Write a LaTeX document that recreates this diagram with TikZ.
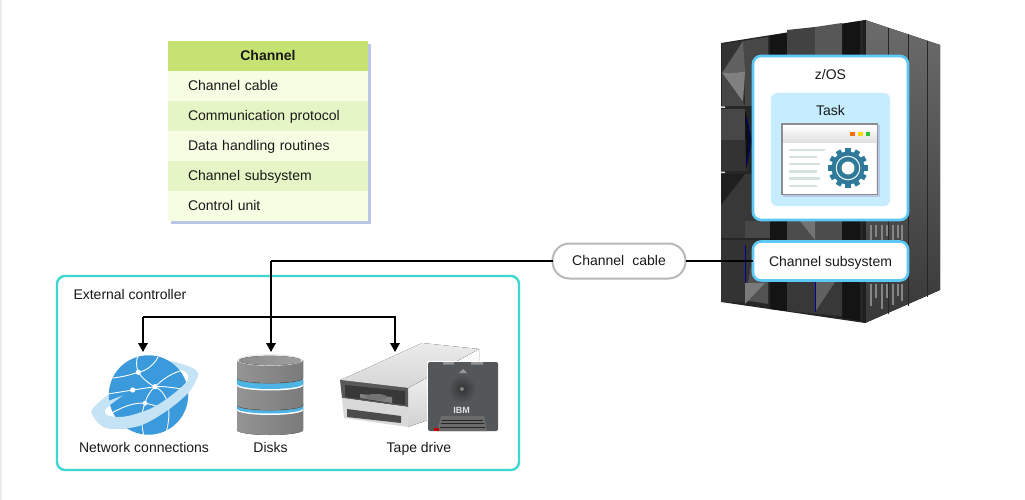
\documentclass[tikz,border=0pt]{standalone}
\usepackage{fontspec}
\setmainfont{Liberation Sans}
\usetikzlibrary{arrows.meta,calc}
\definecolor{hdr}{HTML}{C5E273}
\definecolor{rowa}{HTML}{F6FDE2}
\definecolor{rowb}{HTML}{E6F5C5}
\definecolor{shad}{HTML}{B9C6E6}
\definecolor{teal}{HTML}{3DD6D0}
\definecolor{sky}{HTML}{5CC8F5}
\definecolor{taskb}{HTML}{C6ECFF}
\definecolor{globe}{HTML}{3A9ADC}
\definecolor{ringc}{HTML}{C4E3F5}
\definecolor{gearc}{HTML}{2F7A99}
\definecolor{linec}{HTML}{D5E2E0}
\definecolor{diskb}{HTML}{4DB4E6}
\definecolor{cart}{HTML}{53575A}
\tikzset{
  every node/.style={font=\fontsize{14}{16}\selectfont,text=black!90,inner sep=0,outer sep=0},
  rowcell/.style={anchor=north west,text width=160pt,inner xsep=20pt,minimum height=30pt,align=left,text height=11pt,text depth=2pt},
  baselabel/.style={anchor=base},
  wire/.style={line width=1.7pt,black},
  feed/.style={wire,-{Triangle[width=9.5pt,length=9pt]}},
  bluebox/.style={draw=sky,line width=2.6pt,fill=white,rounded corners=8pt},
  facetl/.style={fill=black!50},
  facetm/.style={fill=black!72},
  facetd/.style={fill=black!80},
  slot/.style={fill=black!92},
  net/.style={draw=white,line width=0.9pt},
  greybar/.style={draw=black!48,line width=1.2pt},
  txtline/.style={draw=linec,line width=2.2pt},
  diskseg/.style={left color=black!42,middle color=black!22,right color=black!52},
}
\newcommand{\ringpath}{plot[smooth cycle,tension=0.55] coordinates {(91.7,413) (102,426) (118,429) (142,425) (168,410) (188,393) (197,378) (196.7,371) (185,365) (165,362) (130,378) (108,395) (96,405)}
  plot[smooth cycle,tension=0.55] coordinates {(105,413) (112,416.7) (128,416) (152,408) (172,395) (186.7,381.7) (188,375) (179,370) (150,378) (110,405)}}
\begin{document}
\begin{tikzpicture}[x=1pt,y=-1pt]
\useasboundingbox (0,0) rectangle (1025,500);
\fill[black!9] (0,0) rectangle (1025,500);
\fill[white,rounded corners=12pt] (1.5,-12) rectangle (1040,512);

% Channel table
\fill[shad] (171,44) rectangle (371,224);
\node[rowcell,fill=hdr,align=center,font=\fontsize{14}{16}\selectfont\bfseries] (thead) at (168,41) {Channel};
\node[rowcell,fill=rowa] (r1) at (168,71) {Channel cable};
\node[rowcell,fill=rowb] (r2) at (168,101) {Communication protocol};
\node[rowcell,fill=rowa] (r3) at (168,131) {Data handling routines};
\node[rowcell,fill=rowb] (r4) at (168,161) {Channel subsystem};
\node[rowcell,fill=rowa] (r5) at (168,191) {Control unit};

% Mainframe
\fill[top color=black!58,bottom color=black!78] (865,20) -- (940,45) -- (940,290) -- (865,323) -- cycle;
\fill[black!85] (721,43) -- (865,20) -- (865,323) -- (721,302) -- cycle;
\fill[black!88] (863,20) rectangle (866,323);
\draw[black!85,line width=1pt] (888,28) -- (888,314) (908,34) -- (908,306) (927,41) -- (927,297);
% slots
\fill[slot] (770,36) -- (787,33) -- (787,311) -- (770,309) -- cycle;
\fill[slot] (842,24) -- (860,21) -- (860,321) -- (842,318) -- cycle;
% upper-left panel
\fill[facetm] (743,41) -- (768,37) -- (768,106) -- (745,106) -- cycle;
\fill[facetd] (722,44) -- (743,41) -- (722,73) -- cycle;
\fill[black!62] (743,41) -- (745,72) -- (722,73) -- cycle;
\fill[facetl] (722,73) -- (745,72) -- (743,102) -- cycle;
\fill[black!72] (722,73) -- (743,102) -- (745,106) -- (722,106) -- cycle;
% second and third
\fill[black!72] (721,109) rectangle (745,140);
\fill[black!80] (721,140) rectangle (748,171);
\fill[black!95] (745,110) -- (752,140) -- (746,170) -- cycle;
\draw[blue!60!black,line width=0.8pt] (747,118) -- (750,140) -- (747,165);
\fill[black!78] (721,174) rectangle (768,238);
\fill[black!88] (721,174) -- (745,174) -- (721,205) -- cycle;
% white notches
\fill[white!85!black] (721,106.5) rectangle (725,108) (721,171.5) rectangle (725,173);
% between boxes and lower panels
\fill[black!72] (745,221) rectangle (770,238);
\fill[black!74] (787,30) -- (815,27) -- (815,60) -- (787,60) -- cycle;
\fill[black!66] (815,27) -- (842,23) -- (842,60) -- (815,60) -- cycle;
\fill[black!70] (787,220) rectangle (842,241);
\fill[black!55] (800,221) -- (815,221) -- (815,240) -- cycle;
\fill[black!80] (721,240) rectangle (768,302);
\fill[black!68] (745,300) -- (752,260) -- (768,280) -- (768,304) -- cycle;
\fill[black!52] (745,283) -- (745,304) -- (765,283) -- cycle;
\draw[blue!60!black,line width=0.8pt] (745,245) -- (745,282);
\fill[black!78] (787,281) -- (842,281) -- (842,316) -- (787,311) -- cycle;
\fill[black!62] (815,312) -- (815,282) -- (835,282) -- cycle;
\draw[blue!60!black,line width=0.8pt] (815,282) -- (815,312);
% grey bars
\foreach \x/\a/\b in {871/225/240,876/225/237,882/225/240,887/225/236,893/225/240,898/225/238,902/225/240,
                      871/284/306,876/284/298,882/284/309,887/284/298,893/284/305,898/284/296,902/284/301}
  \draw[greybar] (\x,\a) -- (\x,\b);

% z/OS box
\node[bluebox,minimum width=155pt,minimum height=164pt,anchor=north west] (zos) at (753,56) {};
\node[baselabel] (zoslbl) at (830.5,79.5) {z/OS};
\node[fill=taskb,rounded corners=6pt,minimum width=119pt,minimum height=113pt,anchor=north west] (task) at (771,93) {};
\node[baselabel] (tasklbl) at (830.5,116) {Task};
% window icon
\fill[shad] (783,125) rectangle (880,197);
\fill[black!45] (781,123) rectangle (878,195);
\node[anchor=north west,minimum width=94pt,minimum height=68pt,fill=white] (win) at (783,126) {};
\fill[top color=white,bottom color=black!13] (783,126) rectangle (877,143);
\fill[black!8] (875.5,143) rectangle (877,194);
\fill[orange!85!red] (850,132) rectangle (854.5,136.5);
\fill[yellow!75!orange] (858,132) rectangle (862.5,136.5);
\fill[green!70!black!80!white] (865.5,132) rectangle (870,136.5);
\draw[txtline] (789,150) -- (825,150);
\draw[txtline] (789,157.2) -- (817,157.2);
\draw[txtline] (789,164.3) -- (820,164.3);
\draw[txtline] (789,171.4) -- (817,171.4);
\draw[txtline] (789,178.5) -- (820,178.5);
\draw[txtline] (789,185.7) -- (817,185.7);
% gear
\coordinate (gc) at (848,168);
\foreach \a in {0,30,...,330}
  \fill[gearc,rotate around={\a:(gc)}] ($(gc)+(-2.6,-20)$) rectangle ($(gc)+(2.6,-12)$);
\fill[gearc] (gc) circle[radius=16.5];
\fill[white] (gc) circle[radius=12.3];
\fill[gearc] (gc) circle[radius=11.2];
\fill[white] (gc) circle[radius=6.5];

% Channel subsystem
\node[bluebox,minimum width=155pt,minimum height=39pt,anchor=north west,text height=12pt,text depth=2pt] (css) at (753,241.5) {Channel subsystem};

% External controller
\node[draw=teal,line width=2.4pt,rounded corners=8pt,fill=white,minimum width=462pt,minimum height=194pt,anchor=north west] (ext) at (57,276) {};
\node[anchor=base west] (extlbl) at (73.5,299) {External controller};

% Network icon
\coordinate (netc) at (148.5,395);
\fill[ringc,even odd rule] \ringpath;
\fill[globe] (netc) circle[radius=39.7];
\begin{scope}
\clip (netc) circle[radius=39.7];
\coordinate (n1) at (138.3,372.3);
\coordinate (n2) at (155,386.7);
\coordinate (n3) at (132.7,390);
\coordinate (n4) at (145,403.3);
\draw[net] (113,378) .. controls (122,377) and (130,375) .. (n1) .. controls (146,371) and (154,365) .. (158,357);
\draw[net] (n1) .. controls (136,366) and (136,361) .. (138,355);
\draw[net] (n1) .. controls (142,378) and (149,384) .. (n2) .. controls (162,380) and (170,374) .. (180,371);
\draw[net] (108,394) -- (n3) -- (n2) .. controls (165,386) and (175,388) .. (188,390);
\draw[net] (n2) .. controls (170,394) and (172,415) .. (165,436);
\draw[net] (n2) .. controls (150,391) and (146,398) .. (n4) .. controls (141,413) and (141,425) .. (144,436);
\draw[net] (112,413) .. controls (122,407) and (135,402) .. (n4) .. controls (152,404) and (158,407) .. (165,409);
\end{scope}
\fill[white] (n1) circle[radius=2.6] (n2) circle[radius=2.6] (n3) circle[radius=2.6] (n4) circle[radius=2.4];
% ring front
\begin{scope}
\clip (85,409.6) -- (205,365) -- (205,440) -- (85,440) -- cycle;
\fill[ringc,even odd rule] \ringpath;
\end{scope}
\node[baselabel] (netlbl) at (144,452) {Network connections};
\coordinate (nettop) at (143,352);

% Disks
\fill[diskseg] (237,405) -- (303,405) -- (303,430) arc[start angle=0,end angle=180,x radius=33,y radius=5] -- cycle;
\fill[white] (237,404) -- (303,404) -- (303,410) arc[start angle=0,end angle=180,x radius=33,y radius=5] -- cycle;
\fill[diskb] (237,403) -- (303,403) -- (303,408.5) arc[start angle=0,end angle=180,x radius=33,y radius=5] -- cycle;
\fill[black!55] (237,403) -- (303,403) -- (303,405.6) arc[start angle=0,end angle=180,x radius=33,y radius=5] -- cycle;
\fill[diskseg] (237,380) -- (303,380) -- (303,405) arc[start angle=0,end angle=180,x radius=33,y radius=5] -- cycle;
\fill[white] (237,379) -- (303,379) -- (303,385.5) arc[start angle=0,end angle=180,x radius=33,y radius=5] -- cycle;
\fill[diskb] (237,378) -- (303,378) -- (303,384) arc[start angle=0,end angle=180,x radius=33,y radius=5] -- cycle;
\fill[black!55] (237,378) -- (303,378) -- (303,378.6) arc[start angle=0,end angle=180,x radius=33,y radius=5] -- cycle;
\fill[diskseg] (237,360) -- (303,360) -- (303,378) arc[start angle=0,end angle=180,x radius=33,y radius=5] -- cycle;
\fill[black!8] (270,360) ellipse[x radius=33,y radius=5.8];
\fill[left color=black!45,right color=black!38] (270,360.5) ellipse[x radius=31,y radius=4.6];
\coordinate (disktop) at (271,352);
\node[baselabel] (disklbl) at (270.5,452) {Disks};

% Tape drive
\fill[top color=white,bottom color=black!18] (408,388) -- (479,349) -- (479,362) -- (440,395) -- (428,420) -- (408,427) -- cycle;
\fill[top color=black!8,bottom color=black!16] (340,380) -- (352,375) -- (422,343) -- (479,349) -- (408,388) -- cycle;
\fill[black!65] (340,380) -- (408,388) -- (408,407) -- (342,398) -- cycle;
\fill[black!78] (345,385) -- (405,391) -- (405,405) -- (345,397) -- cycle;
\fill[black!50] (360,394) -- (392,397) -- (392,403) -- (360,398) -- cycle;
\fill[black!55] (376,397) ellipse[x radius=11,y radius=3];
\fill[black!15] (342,398) -- (408,407) -- (408,427) -- (344,418) -- cycle;
\fill[black!70] (347,409) -- (401,416) -- (401,423) -- (347,417) -- cycle;
\fill[white,rounded corners=2pt] (427,361) rectangle (499,432);
\fill[rounded corners=2pt,cart] (428,362) rectangle (498,431);
\fill[black!42] (443,362) rectangle (454,364.5) (471,362) rectangle (483,364.5);
\fill[black!40] (463,369) -- (467,373) -- (459,373) -- cycle;
\shade[inner color=black!80,outer color=cart] (462,389) circle[radius=14];
\fill[black!50] (462,389) circle[radius=2];
\node[font=\fontsize{9}{9}\selectfont\bfseries,text=black!12] (ibm) at (461.5,410) {IBM};
\fill[black!58] (437,431) -- (441,416) -- (484,416) -- (487,431) -- cycle;
\draw[black!85,line width=0.7pt] (442,420) -- (483,420) (441,423.5) -- (484,423.5) (440,427) -- (485,427);
\fill[red!75!black] (434,428) rectangle (439,430.5);
\coordinate (tapetop) at (395,352);
\node[baselabel] (tapelbl) at (419,452) {Tape drive};

% Cable label and connectors
\node[draw=black!28,line width=2pt,fill=white,rounded corners=17pt,minimum width=133pt,minimum height=35pt,anchor=center,text height=11pt,text depth=3pt] (cable) at (619,261) {Channel\hspace{0.3em} cable};
\coordinate (split) at (271,261);
\coordinate (busl) at (143,317);
\coordinate (busr) at (395,317);
\draw[wire] (css.west) -- (cable.east);
\draw[wire] (cable.west) -- (split);
\draw[feed] (split) -- (disktop);
\draw[feed] (busl) -- (nettop);
\draw[feed] (busl) -- (busr) -- (tapetop);
\end{tikzpicture}
\end{document}
